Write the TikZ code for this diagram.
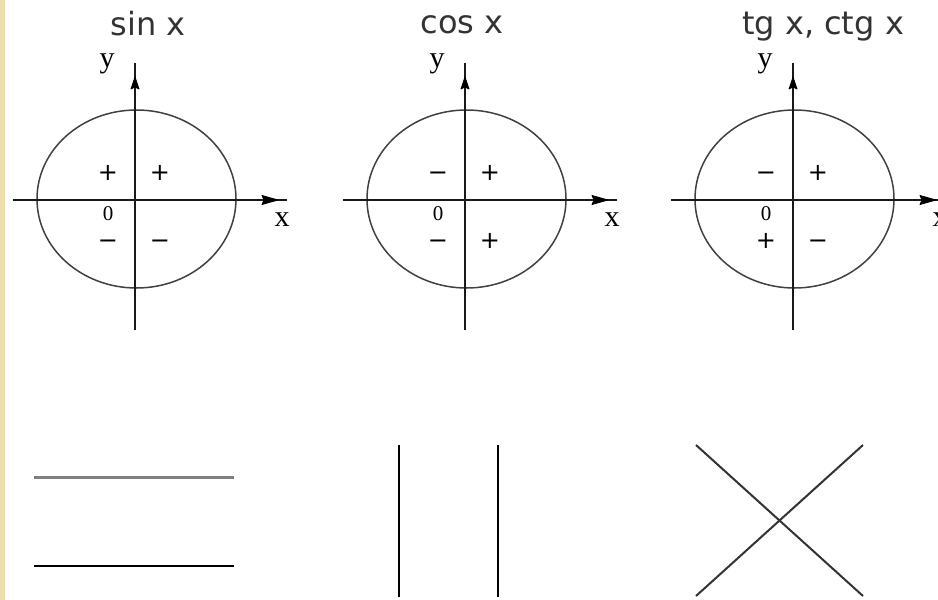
\documentclass[tikz,border=0pt]{standalone}
\usepackage{fontspec}
\setmainfont{Liberation Serif}
\setsansfont{DejaVu Sans}
\begin{document}
\begin{tikzpicture}[x=1pt,y=-1pt,
  title/.style={font=\sffamily\fontsize{32}{32}\selectfont,text=black!80,anchor=base,inner sep=0pt},
  axlabel/.style={font=\fontsize{30}{30}\selectfont,inner sep=0pt},
  zerolabel/.style={font=\fontsize{21}{21}\selectfont,inner sep=0pt},
  sgn/.style={font=\sffamily\fontsize{24}{24}\selectfont,inner sep=0pt},
  plus/.style={sgn},
  minus/.style={sgn,yshift=-3.5pt},
  axis/.style={line width=2pt,black!90},
  circ/.style={line width=1.5pt,black!75},
  arrowhead/.style={fill=black,draw=black,line width=0.8pt,line join=round}]
\useasboundingbox (0,0) rectangle (938,600);
\clip (0,0) rectangle (938,600);
\fill[fill={rgb,255:red,240;green,222;blue,170}] (0,0) rectangle (5,600);
% titles
\node[title] (t1) at (148,35) {sin x};
\node[title] (t2) at (462,33) {cos x};
\node[title] (t3) at (823,34) {tg x, ctg x};
% panels
\foreach \ox [count=\i] in {135,465,793}{
  \draw[circ] (\ox+1.5,199) ellipse [x radius=99.5,y radius=89];
  \draw[axis] (\ox-122,200) -- (\ox+152,200);
  \draw[axis] (\ox,63) -- (\ox,330);
  \fill[arrowhead] (\ox+143,200) -- (\ox+127,195.5) -- (\ox+129,200) -- (\ox+127,204.5) -- cycle;
  \fill[arrowhead] (\ox,77) -- (\ox-4,89) -- (\ox,87) -- (\ox+4,89) -- cycle;
  \node[axlabel] (y\i) at (\ox-28,64) {y};
  \node[axlabel] (x\i) at (\ox+147,220) {x};
  \node[zerolabel] (o\i) at (\ox-27,214) {0};
}
% signs: sin x
\node[plus]  (a1) at (108,173) {+};
\node[plus]  (b1) at (160,173) {+};
\node[minus] (c1) at (108,241) {−};
\node[minus] (d1) at (160,241) {−};
% signs: cos x
\node[minus] (a2) at (438,173) {−};
\node[plus]  (b2) at (490,173) {+};
\node[minus] (c2) at (438,241) {−};
\node[plus]  (d2) at (490,241) {+};
% signs: tg x, ctg x
\node[minus] (a3) at (766,173) {−};
\node[plus]  (b3) at (818,173) {+};
\node[plus]  (c3) at (766,241) {+};
\node[minus] (d3) at (818,241) {−};
% bottom figures
\draw[line width=3pt,black!50] (34,477) -- (234,477);
\draw[line width=2.2pt,black] (34,566) -- (234,566);
\draw[line width=2pt,black] (399,445) -- (399,597);
\draw[line width=2pt,black] (498,445) -- (498,597);
\draw[line width=2pt,black!80] (696,445) -- (863,596);
\draw[line width=2pt,black!80] (863,445) -- (696,596);
\end{tikzpicture}
\end{document}
